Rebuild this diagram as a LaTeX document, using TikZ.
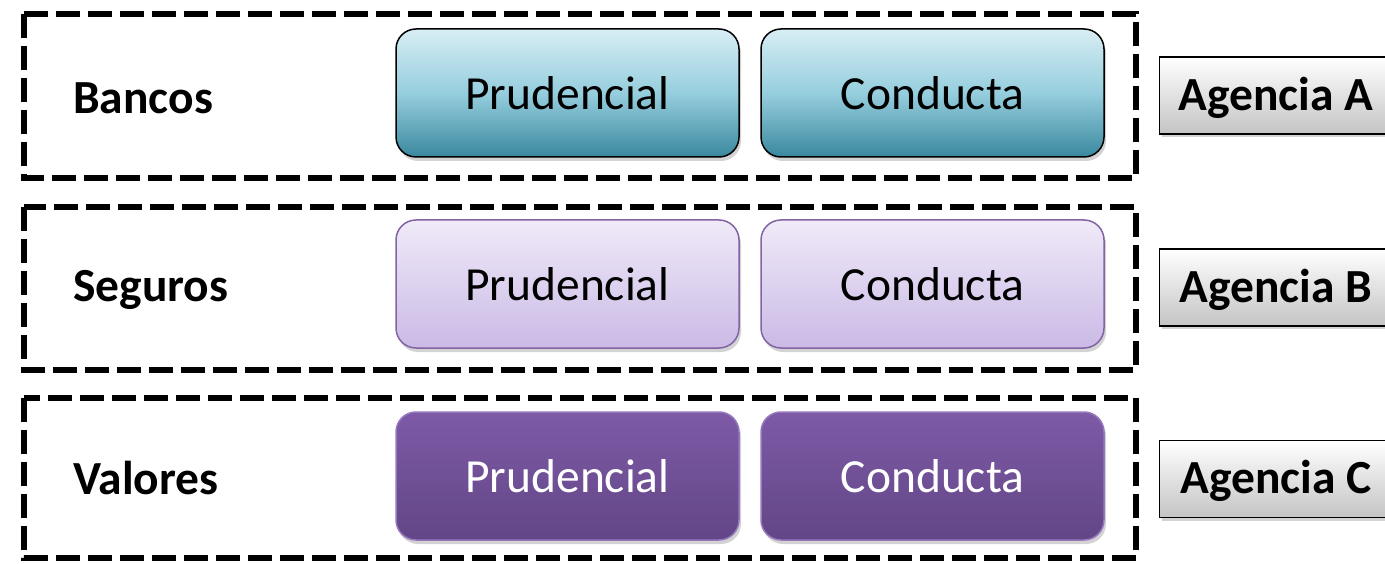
\documentclass[tikz,border=0pt]{standalone}
\usepackage{fontspec}
\setmainfont{Carlito}
\usetikzlibrary{shadows,positioning}
\definecolor{tealtop}{RGB}{216,238,244}
\definecolor{tealmid}{RGB}{150,206,222}
\definecolor{tealbot}{RGB}{58,136,158}
\definecolor{lavtop}{RGB}{240,234,248}
\definecolor{lavbot}{RGB}{202,186,230}
\definecolor{lavline}{RGB}{130,100,165}
\definecolor{purtop}{RGB}{126,90,167}
\definecolor{purbot}{RGB}{98,70,134}
\definecolor{purline}{RGB}{150,120,190}
\definecolor{graybot}{RGB}{196,196,196}
\tikzset{
  sector/.style={draw=black, line width=5.5pt, dash pattern=on 24pt off 8pt},
  cell/.style={rounded corners=20pt, line width=1.5pt, minimum width=343pt, minimum height=128pt,
     font=\fontsize{47.5}{52}\selectfont, drop shadow={opacity=0.35, shadow xshift=2pt, shadow yshift=-4pt}},
  teal/.style={cell, draw=black, top color=tealtop, bottom color=tealbot, middle color=tealmid},
  lav/.style={cell, draw=lavline, top color=lavtop, bottom color=lavbot},
  pur/.style={cell, draw=purline, top color=purtop, bottom color=purbot, text=white},
  sectxt/.style={font=\fontsize{47.5}{52}\selectfont\bfseries, anchor=west, inner xsep=0pt},
  agency/.style={draw=black, line width=1.2pt, top color=white, bottom color=graybot,
     minimum width=240pt, minimum height=77pt, anchor=west,
     drop shadow={opacity=0.35, shadow xshift=2pt, shadow yshift=-3pt}},
  agtxt/.style={font=\fontsize{47.5}{52}\selectfont\bfseries}
}
\begin{document}
\begin{tikzpicture}[x=1pt,y=-1pt]
\useasboundingbox (0,0) rectangle (1385,564);
% sector boxes
\draw[sector] (24,14) rectangle (1136,178);
\draw[sector] (24,207) rectangle (1136,370);
\draw[sector] (24,398) rectangle (1136,558);
% row 1
\node[sectxt] (bancos) at (73,98) {Bancos};
\node[teal] (p1) at (567.5,93) {Prudencial};
\node[teal] (c1) at (932.5,93) {Conducta};
% row 2
\node[sectxt] (seguros) at (73,290) {Seguros};
\node[lav] (p2) at (567.5,284) {Prudencial};
\node[lav] (c2) at (932.5,284) {Conducta};
% row 3
\node[sectxt] (valores) at (73,478) {Valores};
\node[pur] (p3) at (567.5,476) {Prudencial};
\node[pur] (c3) at (932.5,476) {Conducta};
% agencies
\begin{scope}
\clip (0,0) rectangle (1385,564);
\node[agency] (aa) at (1159,95.5) {};
\node[agency] (ab) at (1159,287.5) {};
\node[agency] (ac) at (1159,479) {};
\end{scope}
\node[agtxt] (ta) at (1276,98) {Agencia A};
\node[agtxt] (tb) at (1276,290) {Agencia B};
\node[agtxt] (tc) at (1276,481) {Agencia C};
\end{tikzpicture}
\end{document}
